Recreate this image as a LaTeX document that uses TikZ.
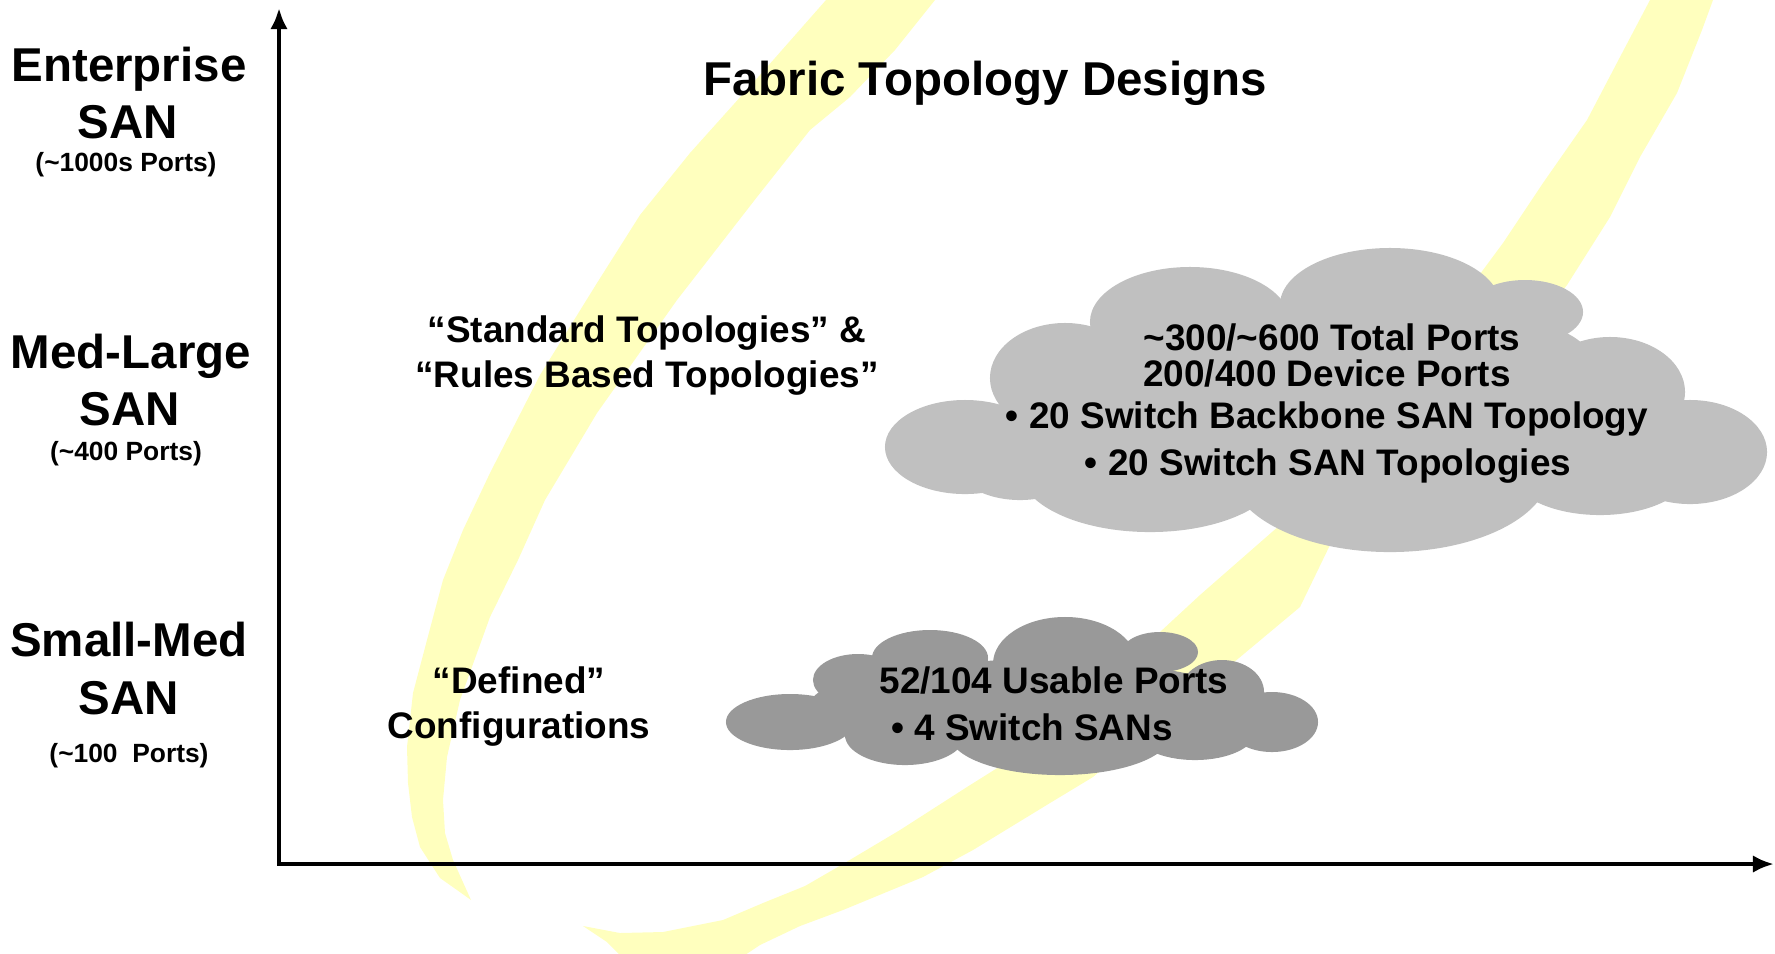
\documentclass[tikz,border=0pt]{standalone}
\usepackage{fontspec}
\setmainfont{Liberation Sans}
\usetikzlibrary{arrows.meta}
\newcommand{\tld}{{\char126\relax}}
\definecolor{swoosh}{RGB}{255,255,190}
\definecolor{cloudlight}{RGB}{192,192,192}
\definecolor{clouddark}{RGB}{153,153,153}
\tikzset{
  bigtext/.style={font=\fontsize{13.5pt}{16pt}\selectfont\bfseries, inner sep=0pt, anchor=base},
  smalltext/.style={font=\fontsize{7.5pt}{9pt}\selectfont\bfseries, inner sep=0pt, anchor=base},
  bodytext/.style={font=\fontsize{10.5pt}{12.5pt}\selectfont\bfseries, inner sep=0pt, anchor=base},
  axisline/.style={line width=1.4pt, {Latex[length=6pt,width=5pt]}-{Latex[length=6pt,width=5pt]}},
  band/.style={fill=swoosh, draw=none},
}
\begin{document}
\begin{tikzpicture}[x=0.01cm,y=-0.01cm]
\useasboundingbox (0,0) rectangle (1775,953);
\clip (0,0) rectangle (1775,953);

% yellow brush strokes
\fill[band] (880,-40) -- (826,0) -- (760,75) -- (690,153) -- (640,215) -- (597,283) -- (540,375) -- (490,473) -- (463,530) -- (443,580) -- (427,640) -- (413,693) -- (407,747) -- (408,783) -- (412,817) -- (420,847) -- (440,878) -- (457,890) -- (471,900)
  -- (453,860) -- (445,833) -- (443,800) -- (447,757) -- (460,700) -- (477,653) -- (490,617) -- (518,560) -- (545,500) -- (597,413) -- (677,300) -- (757,197) -- (810,130) -- (850,97) -- (895,50) -- (935,0) -- (960,-40) -- cycle;

\fill[band] (583,926) -- (620,933) -- (663,932) -- (723,920) -- (763,903) -- (805,886) -- (843,864) -- (900,830) -- (967,787) -- (1010,760) -- (1080,705) -- (1160,632) -- (1200,595) -- (1280,525) -- (1380,400) -- (1440,330) -- (1483,270) -- (1503,243) -- (1543,183) -- (1587,120) -- (1620,57) -- (1650,0) -- (1665,-30)
  -- (1725,-30) -- (1713,0) -- (1702,30) -- (1677,93) -- (1640,157) -- (1610,217) -- (1567,285) -- (1520,345) -- (1450,420) -- (1380,490) -- (1330,545) -- (1300,607) -- (1233,663) -- (1160,720) -- (1093,777) -- (1050,803) -- (973,850) -- (923,877) -- (843,910) -- (800,926) -- (760,945) -- (730,965) -- (630,965) -- (607,942) -- cycle;

% large cloud
\begin{scope}[fill=cloudlight]
\fill (965,447) ellipse [x radius=0.80cm, y radius=0.47cm];
\fill (1065,378) ellipse [x radius=0.75cm, y radius=0.55cm];
\fill (1190,322) ellipse [x radius=1.00cm, y radius=0.55cm];
\fill (1390,305) ellipse [x radius=1.10cm, y radius=0.57cm];
\fill (1525,312) ellipse [x radius=0.58cm, y radius=0.32cm];
\fill (1500,360) ellipse [x radius=0.90cm, y radius=0.40cm];
\fill (1610,392) ellipse [x radius=0.75cm, y radius=0.55cm];
\fill (1690,452) ellipse [x radius=0.77cm, y radius=0.52cm];
\fill (1600,470) ellipse [x radius=0.90cm, y radius=0.45cm];
\fill (1390,470) ellipse [x radius=1.60cm, y radius=0.82cm];
\fill (1150,470) ellipse [x radius=1.30cm, y radius=0.62cm];
\fill (1020,455) ellipse [x radius=0.70cm, y radius=0.45cm];
\fill (1320,400) ellipse [x radius=3.00cm, y radius=1.00cm];
\end{scope}

% small cloud
\begin{scope}[fill=clouddark]
\fill (790,722) ellipse [x radius=0.64cm, y radius=0.28cm];
\fill (858,680) ellipse [x radius=0.45cm, y radius=0.26cm];
\fill (930,658) ellipse [x radius=0.58cm, y radius=0.28cm];
\fill (1065,664) ellipse [x radius=0.72cm, y radius=0.47cm];
\fill (1160,652) ellipse [x radius=0.38cm, y radius=0.20cm];
\fill (1222,692) ellipse [x radius=0.42cm, y radius=0.32cm];
\fill (1272,722) ellipse [x radius=0.46cm, y radius=0.30cm];
\fill (1060,735) ellipse [x radius=1.10cm, y radius=0.40cm];
\fill (905,735) ellipse [x radius=0.60cm, y radius=0.30cm];
\fill (1195,732) ellipse [x radius=0.60cm, y radius=0.28cm];
\fill (1030,705) ellipse [x radius=2.20cm, y radius=0.45cm];
\end{scope}

% axes
\coordinate (ytop) at (279,8);
\coordinate (origin) at (279,864);
\coordinate (xend) at (1774,864);
\draw[axisline] (ytop) -- (origin) -- (xend);

% scale labels
\node[bigtext] (ent) at (129,81) {Enterprise};
\node[bigtext] (entsan) at (128,138) {SAN};
\node[smalltext] (entports) at (126,171) {(\tld1000s Ports)};
\node[bigtext] (med) at (131,368) {Med-Large};
\node[bigtext] (medsan) at (130,425) {SAN};
\node[smalltext] (medports) at (126,460) {(\tld400 Ports)};
\node[bigtext] (sml) at (129,656) {Small-Med};
\node[bigtext] (smlsan) at (129,714) {SAN};
\node[smalltext] (smlports) at (129,762) {(\tld100\ \ Ports)};

% title and design categories
\node[bigtext] (title) at (985,95) {Fabric Topology Designs};
\node[bodytext] (std1) at (647,342) {“Standard Topologies” \&};
\node[bodytext] (std2) at (647,387) {“Rules Based Topologies”};
\node[bodytext] (def1) at (519,693) {“Defined”};
\node[bodytext] (def2) at (519,738) {Configurations};

% cloud contents
\node[bodytext] (lc1) at (1332,350) {\tld300/\tld600 Total Ports};
\node[bodytext] (lc2) at (1327,386) {200/400 Device Ports};
\node[bodytext] (lc3) at (1327,428) {• 20 Switch Backbone SAN Topology};
\node[bodytext] (lc4) at (1328,475) {• 20 Switch SAN Topologies};
\node[bodytext] (sc1) at (1054,693) {52/104 Usable Ports};
\node[bodytext] (sc2) at (1032,740) {• 4 Switch SANs};
\end{tikzpicture}
\end{document}
